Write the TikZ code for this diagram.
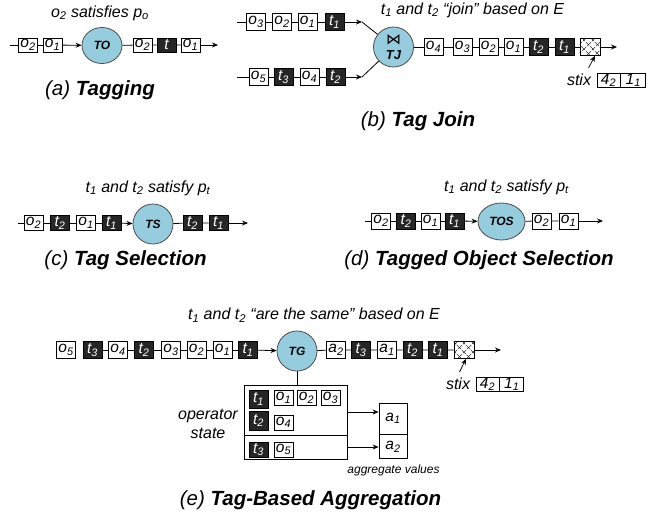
\documentclass[tikz,border=0pt]{standalone}
\usepackage{fontspec}
\setmainfont{Liberation Sans}
\newfontfamily\djv{DejaVu Sans}
\usetikzlibrary{arrows.meta,shapes.geometric,patterns.meta}
\definecolor{opblue}{RGB}{150,205,222}
\definecolor{boxblack}{RGB}{38,38,38}
\newcommand\mysub[1]{\textsubscript{#1}}
\begin{document}
\begin{tikzpicture}[x=1pt,y=-1pt,
  line width=0.8pt,
  >={Stealth[length=6pt,width=5pt]},
  wbox/.style={draw, fill=white, minimum width=19pt, minimum height=16pt, inner sep=0pt, font=\fontsize{15.5}{15.5}\selectfont\itshape},
  bbox/.style={wbox, fill=boxblack, text=white},
  hbox/.style={draw, minimum width=20pt, minimum height=17pt, inner sep=0pt, pattern={Lines[angle=45,distance=6.5pt,line width=0.6pt]}},
  opnode/.style={ellipse, draw=black!70, fill=opblue, inner sep=0pt, minimum width=40pt, minimum height=38pt, font=\fontsize{12}{12}\selectfont\bfseries\itshape},
  lbl/.style={font=\fontsize{16}{18}\selectfont\itshape, inner sep=0pt},
  captxt/.style={font=\fontsize{20.5}{22}\selectfont\itshape, inner sep=0pt},
  smalltxt/.style={font=\fontsize{12}{14}\selectfont\itshape, inner sep=0pt},
]
\useasboundingbox (0,0) rectangle (667,512);

% ---------------- (a) Tagging
\node[lbl] (alab) at (100,13) {o\mysub{2} satisfies p\mysub{o}};
\coordinate (a0) at (10,45);
\node[wbox, minimum height=14pt] (ao2) at (28,45) {o\mysub{2}};
\node[wbox, minimum height=14pt] (ao1) at (52.5,45) {o\mysub{1}};
\node[opnode, minimum height=36pt] (TO) at (102,45.5) {TO};
\node[wbox, minimum height=14pt] (ao2b) at (142.5,45) {o\mysub{2}};
\node[bbox, minimum height=14pt] (atb) at (166.5,45) {t};
\node[wbox, minimum height=14pt] (ao1b) at (190.5,45) {o\mysub{1}};
\coordinate (aend) at (218,45);
\draw (a0) -- (ao2) -- (ao1);
\draw[->] (ao1) -- (TO);
\draw (TO) -- (ao2b) -- (atb) -- (ao1b);
\draw[->] (ao1b) -- (aend);
\node[captxt] (acap) at (100,90) {(a) \textbf{Tagging}};

% ---------------- (b) Tag Join
\node[lbl] (blab) at (472.5,10) {t\mysub{1} and t\mysub{2} “join” based on E};
\coordinate (b0) at (237,22);
\node[wbox, minimum height=17pt] (bo3) at (256,22) {o\mysub{3}};
\node[wbox, minimum height=17pt] (bo2) at (282,22) {o\mysub{2}};
\node[wbox, minimum height=17pt] (bo1) at (307.5,22) {o\mysub{1}};
\node[bbox, minimum height=17pt] (bt1) at (334.5,22) {t\mysub{1}};
\coordinate (bj1) at (362,22);
\coordinate (b1) at (237,77);
\node[wbox, minimum height=17pt] (bo5) at (258.5,77) {o\mysub{5}};
\node[bbox, minimum height=17pt] (bt3) at (283.5,77) {t\mysub{3}};
\node[wbox, minimum height=17pt] (bo4) at (309.5,77) {o\mysub{4}};
\node[bbox, minimum height=17pt] (bt2) at (335.5,77) {t\mysub{2}};
\coordinate (bj2) at (362,77);
\node[opnode, minimum height=40pt, align=center, font=\fontsize{13}{14}\selectfont\bfseries\itshape] (TJ) at (393.5,47) {{\djv\mdseries\upshape\fontsize{15}{15}\selectfont ⋈}\\[1pt]TJ};
\draw (b0) -- (bo3) -- (bo2) -- (bo1) -- (bt1);
\draw[->] (bt1) -- (bj1);
\draw (bj1) -- (TJ);
\draw (b1) -- (bo5) -- (bt3) -- (bo4) -- (bt2);
\draw[->] (bt2) -- (bj2);
\draw (bj2) -- (TJ);
\node[wbox, minimum height=17pt] (bo4b) at (433.5,47) {o\mysub{4}};
\node[wbox, minimum height=17pt] (bo3b) at (462.5,47) {o\mysub{3}};
\node[wbox, minimum height=17pt] (bo2b) at (488.5,47) {o\mysub{2}};
\node[wbox, minimum height=17pt] (bo1b) at (513.5,47) {o\mysub{1}};
\node[bbox, minimum height=17pt] (bt2b) at (538.5,47) {t\mysub{2}};
\node[bbox, minimum height=17pt] (bt1b) at (564.5,47) {t\mysub{1}};
\node[hbox] (bh) at (590,47) {};
\path[pattern={Lines[angle=-45,distance=6.5pt,line width=0.6pt]}] (bh.south west) rectangle (bh.north east);
\coordinate (bend) at (617,47);
\draw (TJ) -- (bo4b) -- (bo3b) -- (bo2b) -- (bo1b) -- (bt2b) -- (bt1b) -- (bh);
\draw[->] (bh) -- (bend);
\node[lbl] (bstix) at (579,80) {stix};
\node[wbox, minimum width=23pt, minimum height=14pt] (bs4) at (608.5,80) {4\mysub{2}};
\node[wbox, minimum width=25pt, minimum height=14pt, anchor=west] (bs1) at (bs4.east) {1\mysub{1}};
\coordinate (bsa) at (588.5,68);
\draw[->, line width=0.7pt] (bsa) -- ([xshift=5pt]bh.south);
\node[captxt] (bcap) at (418,121) {(b) \textbf{Tag Join}};

% ---------------- (c) Tag Selection
\node[lbl] (clab) at (148,188) {t\mysub{1} and t\mysub{2} satisfy p\mysub{t}};
\coordinate (c0) at (18,223);
\node[wbox, minimum height=15pt] (co2) at (33.5,223) {o\mysub{2}};
\node[bbox, minimum height=15pt] (ct2) at (60,223) {t\mysub{2}};
\node[wbox, minimum height=15pt] (co1) at (86,223) {o\mysub{1}};
\node[bbox, minimum height=15pt] (ct1) at (111.5,223) {t\mysub{1}};
\node[opnode, minimum height=40pt] (TS) at (153,224) {TS};
\node[bbox, minimum height=15pt] (ct2b) at (192.5,223) {t\mysub{2}};
\node[bbox, minimum height=15pt] (ct1b) at (218.5,223) {t\mysub{1}};
\coordinate (cend) at (248,223);
\draw (c0) -- (co2) -- (ct2) -- (co1) -- (ct1);
\draw[->] (ct1) -- (TS);
\draw (TS) -- (ct2b) -- (ct1b);
\draw[->] (ct1b) -- (cend);
\node[captxt] (ccap) at (125.5,260) {(c) \textbf{Tag Selection}};

% ---------------- (d) Tagged Object Selection
\node[lbl] (dlab) at (506.5,187) {t\mysub{1} and t\mysub{2} satisfy p\mysub{t}};
\coordinate (d0) at (365,221);
\node[wbox] (do2) at (381,221) {o\mysub{2}};
\node[bbox] (dt2) at (406,221) {t\mysub{2}};
\node[wbox] (do1) at (430.5,221) {o\mysub{1}};
\node[bbox] (dt1) at (454.5,221) {t\mysub{1}};
\node[opnode, minimum width=47pt, minimum height=37pt] (TOS) at (501.5,221.5) {TOS};
\node[wbox] (do2b) at (541.5,221) {o\mysub{2}};
\node[wbox] (do1b) at (568.5,221) {o\mysub{1}};
\coordinate (dend) at (603,221);
\draw (d0) -- (do2) -- (dt2) -- (do1) -- (dt1);
\draw[->] (dt1) -- (TOS);
\draw (TOS) -- (do2b) -- (do1b);
\draw[->] (do1b) -- (dend);
\node[captxt] (dcap) at (479,260) {(d) \textbf{Tagged Object Selection}};

% ---------------- (e) Tag-Based Aggregation
\node[lbl] (elab) at (314,315) {t\mysub{1} and t\mysub{2} “are the same” based on E};
\node[wbox, minimum height=17pt] (eo5) at (66,350) {o\mysub{5}};
\node[bbox, minimum height=17pt] (et3) at (92.5,350) {t\mysub{3}};
\node[wbox, minimum height=17pt] (eo4) at (118,350) {o\mysub{4}};
\node[bbox, minimum height=17pt] (et2) at (144,350) {t\mysub{2}};
\node[wbox, minimum height=17pt] (eo3) at (171,350) {o\mysub{3}};
\node[wbox, minimum height=17pt] (eo2) at (196.5,350) {o\mysub{2}};
\node[wbox, minimum height=17pt] (eo1) at (222.5,350) {o\mysub{1}};
\node[bbox, minimum height=17pt] (et1) at (248,350) {t\mysub{1}};
\node[opnode, minimum height=40pt] (TG) at (297,351) {TG};
\node[wbox, minimum height=17pt] (ea2) at (336,350) {a\mysub{2}};
\node[bbox, minimum height=17pt] (et3b) at (361,350) {t\mysub{3}};
\node[wbox, minimum height=17pt] (ea1) at (387,350) {a\mysub{1}};
\node[bbox, minimum height=17pt] (et2b) at (412.5,350) {t\mysub{2}};
\node[bbox, minimum height=17pt] (et1b) at (438,350) {t\mysub{1}};
\node[hbox] (eh) at (464,350) {};
\path[pattern={Lines[angle=-45,distance=6.5pt,line width=0.6pt]}] (eh.south west) rectangle (eh.north east);
\coordinate (eend) at (501,350);
\draw (et3) -- (eo4) -- (et2) -- (eo3) -- (eo2) -- (eo1) -- (et1);
\draw[->] (et1) -- (TG);
\draw (TG) -- (ea2) -- (et3b) -- (ea1) -- (et2b) -- (et1b) -- (eh);
\draw[->] (eh) -- (eend);
\node[lbl] (estix) at (458,384) {stix};
\node[wbox, minimum width=23pt, minimum height=14pt] (es4) at (487.5,384) {4\mysub{2}};
\node[wbox, minimum width=24pt, minimum height=14pt, anchor=west] (es1) at (es4.east) {1\mysub{1}};
\coordinate (esa) at (459.5,372);
\draw[->, line width=0.7pt] (esa) -- ([xshift=2pt]eh.south);

% operator state
\node[draw, minimum width=103pt, minimum height=74pt, inner sep=0pt] (state) at (295.5,422) {};
\draw (TG) -- (state.north -| TG);
\draw (state.west |- 0,435) -- (state.east |- 0,435);
\node[bbox, minimum height=18pt] (st1) at (258.5,399) {t\mysub{1}};
\node[wbox, minimum height=15pt] (so1) at (283.5,398) {o\mysub{1}};
\node[wbox, minimum height=15pt] (so2) at (306.5,398) {o\mysub{2}};
\node[wbox, minimum height=15pt] (so3) at (330.5,398) {o\mysub{3}};
\node[bbox, minimum height=19pt] (st2) at (258.5,420.5) {t\mysub{2}};
\node[wbox, minimum height=15pt] (so4) at (283.5,422.5) {o\mysub{4}};
\node[bbox, minimum height=15pt] (st3) at (258.5,449.5) {t\mysub{3}};
\node[wbox, minimum height=15pt] (so5) at (283.5,449.5) {o\mysub{5}};
\node[lbl, align=center, font=\fontsize{16}{19}\selectfont\itshape] (oplab) at (208,424) {operator\\state};

% aggregate values
\node[draw, minimum width=28pt, minimum height=31pt, inner sep=0pt, font=\fontsize{15.5}{15.5}\selectfont\itshape] (agg1) at (393,418.5) {a\mysub{1}};
\node[draw, minimum width=28pt, minimum height=24pt, inner sep=0pt, font=\fontsize{15.5}{15.5}\selectfont\itshape, anchor=north] (agg2) at (agg1.south) {a\mysub{2}};
\draw[->] (state.east |- 0,412) -- (agg1.west |- 0,412);
\draw[->] (state.east |- 0,447) -- (agg2.west |- 0,447);
\node[smalltxt] (agglab) at (393.5,470) {aggregate values};
\node[captxt] (ecap) at (310.5,500) {(e) \textbf{Tag-Based Aggregation}};
\end{tikzpicture}
\end{document}
